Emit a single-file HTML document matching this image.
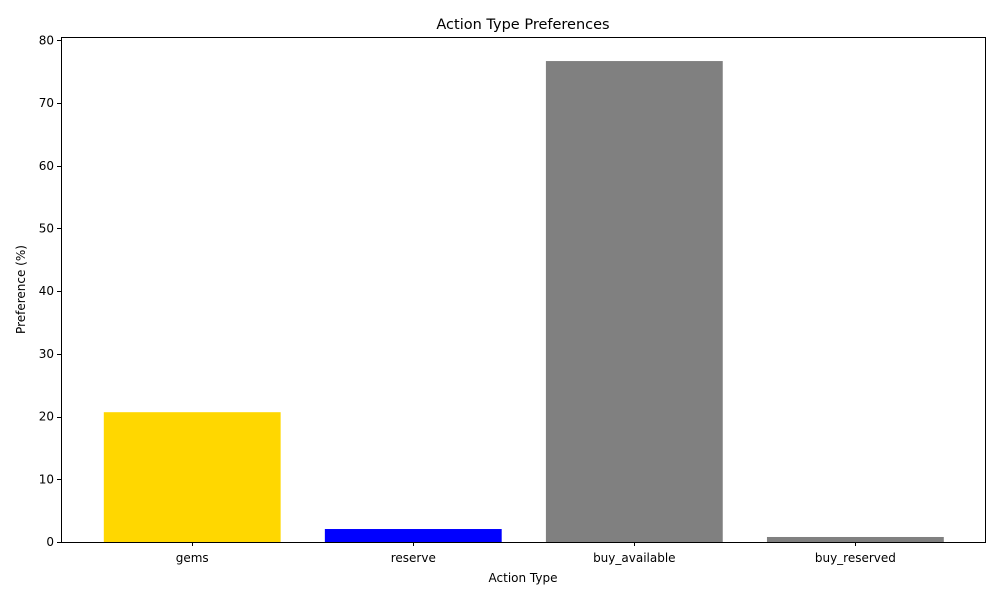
<!DOCTYPE html>
<html><head><meta charset="utf-8"><style>
body{margin:0;background:#fff;font-family:"Liberation Sans","DejaVu Sans",sans-serif;}
</style></head><body>
<svg id="chart" width="1000" height="600" font-family="DejaVu Sans, Liberation Sans, sans-serif"></svg>
<script>
const categories=["gems","reserve","buy_available","buy_reserved"];
const values=[20.7,2.07,76.7,0.8];
const colors=["#ffd700","#0000ff","#808080","#808080"];
const yTicks=[0,10,20,30,40,50,60,70,80];
const L=61,R=985,T=37,B=542;
const yMax=Math.max(...values)*1.05;
const xMin=-0.59,xMax=categories.length-1+0.59;
const x=v=>L+0.8+(v-xMin)/(xMax-xMin)*(R-L);
const y=v=>B-v/yMax*(B-T);
const ns="http://www.w3.org/2000/svg";
const svg=document.getElementById('chart');
function mk(t,a,p){const e=document.createElementNS(ns,t);for(const k in a)e.setAttribute(k,a[k]);(p||svg).appendChild(e);return e;}
const bw=(x(0.8)-x(0));
values.forEach((v,i)=>{
 const r=mk('rect',{x:x(i)-bw/2,y:y(v),width:bw,height:B-y(v),fill:colors[i]});
 
 
 const xi=Math.round(x(i))+0.5;
 mk('line',{x1:xi,x2:xi,y1:B,y2:B+4,stroke:'#000','stroke-width':1});
 const t=mk('text',{x:x(i),y:B+20,'text-anchor':'middle','font-size':12});
 t.textContent=categories[i];
 
 
});
yTicks.forEach(v=>{
 const yi=Math.round(y(v))+0.5;
 mk('line',{x1:L-4,x2:L,y1:yi,y2:yi,stroke:'#000','stroke-width':1});
 const t=mk('text',{x:L-7,y:y(v)+4,'text-anchor':'end','font-size':12});
 t.textContent=v;
 
 
});
const f=mk('rect',{x:L+0.5,y:T+0.5,width:R-L,height:B-T,fill:'none',stroke:'#000','stroke-width':1});


const ti=mk('text',{x:(L+R)/2,y:29,'text-anchor':'middle','font-size':14.5});
ti.textContent='Action Type Preferences';


const xt=mk('text',{x:(L+R)/2,y:582,'text-anchor':'middle','font-size':12});
xt.textContent='Action Type';


const yt=mk('text',{x:25,y:(T+B)/2,'text-anchor':'middle','font-size':12,transform:'rotate(-90 25 '+(T+B)/2+')'});
yt.textContent='Preference (%)';


</script>
</body></html>
